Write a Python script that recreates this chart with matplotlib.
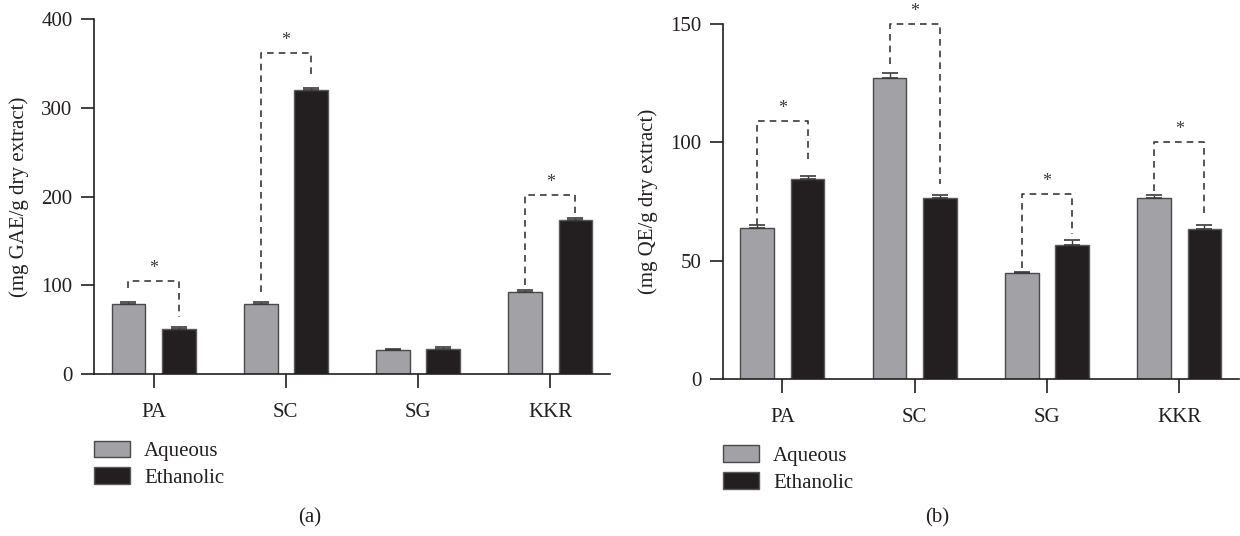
import numpy as np
import matplotlib
matplotlib.use("Agg")
import matplotlib.pyplot as plt
from matplotlib.patches import Patch

plt.rcParams['font.family'] = ['Liberation Serif', 'DejaVu Serif']

groups = ["PA", "SC", "SG", "KKR"]
series = ["Aqueous", "Ethanolic"]

# (a) total phenolic content, mg GAE/g dry extract
gae_aqueous = [79, 79, 27.7, 93]
gae_ethanolic = [50.8, 320, 28.8, 174]
gae_aqueous_err = [2, 2, 1, 1.5]
gae_ethanolic_err = [2.5, 1.8, 1.2, 1.5]
# significance brackets: (group, left foot, top, right foot)
gae_brackets = [(0, 97, 105, 64), (1, 92, 362, 337), (3, 100, 202, 181)]

# (b) total flavonoid content, mg QE/g dry extract
qe_aqueous = [63.8, 127.3, 44.6, 76.4]
qe_ethanolic = [84.4, 76.6, 56.5, 63.6]
qe_aqueous_err = [1.2, 2.1, 0.7, 1.4]
qe_ethanolic_err = [1.5, 1.3, 2.2, 1.6]
qe_brackets = [(0, 65, 109, 93), (1, 133, 150, 82.5), (2, 47, 78.2, 61.3), (3, 79.3, 100, 70)]

GREY = "#a1a1a6"
BLACK = "#231f20"
EDGE = "#4a4a4a"
TXT = "#231f20"
FS = 15


def draw_panel(ax, aq, eth, aq_err, eth_err, brackets, ymax, yticks, ylabel):
    x = np.arange(len(groups))
    off = 0.19
    w = 0.255
    ax.bar(x - off, aq, w, color=GREY, edgecolor=EDGE, linewidth=1.0, zorder=2)
    ax.bar(x + off, eth, w, color=BLACK, edgecolor="#5a5a5a", linewidth=1.0, zorder=2)
    for xs, vals, errs in [(x - off, aq, aq_err), (x + off, eth, eth_err)]:
        ax.errorbar(xs, vals, yerr=[np.zeros(len(vals)), errs], fmt="none",
                    ecolor="#3a3a3a", elinewidth=1.0, capsize=5.8, capthick=1.2, zorder=3)
    for g, yl, yt, yr in brackets:
        ax.plot([g - off, g - off, g + off, g + off], [yl, yt, yt, yr],
                color="#3a3a3a", lw=1.2, ls=(0, (4, 3)), clip_on=False, zorder=4)
        ax.text(g, yt + ymax * 0.012, "*", ha="center", va="bottom",
                fontsize=13, color="#3a3a3a", clip_on=False)

    ax.set_xlim(-0.45, 3.45)
    ax.set_ylim(0, ymax)
    ax.set_xticks(x)
    ax.set_xticklabels(groups)
    ax.set_yticks(yticks)
    for s in ["top", "right"]:
        ax.spines[s].set_visible(False)
    for s in ["left", "bottom"]:
        ax.spines[s].set_linewidth(1.2)
        ax.spines[s].set_color(TXT)
    ax.tick_params(axis="x", direction="out", length=10, width=1.2, pad=11,
                   labelsize=FS, colors=TXT)
    ax.tick_params(axis="y", direction="out", length=9.5, width=1.2, pad=6,
                   labelsize=FS, colors=TXT)
    ax.set_ylabel(ylabel, fontsize=FS, color=TXT, labelpad=9)

    handles = [Patch(facecolor=GREY, edgecolor=EDGE, linewidth=1.0),
               Patch(facecolor=BLACK, edgecolor="#5a5a5a", linewidth=1.0)]
    leg = ax.legend(handles, series, loc="upper left", bbox_to_anchor=(0.0, -0.187),
                    frameon=False, fontsize=FS, handlelength=1.75, handleheight=0.85,
                    handletextpad=0.65, labelspacing=0.3, borderpad=0, borderaxespad=0)
    for t in leg.get_texts():
        t.set_color(TXT)


fig = plt.figure(figsize=(12.4, 5.36), dpi=100)
ax1 = fig.add_axes([0.0758, 0.302, 0.416, 0.6625])
ax2 = fig.add_axes([0.583, 0.293, 0.416, 0.662])

draw_panel(ax1, gae_aqueous, gae_ethanolic, gae_aqueous_err, gae_ethanolic_err,
           gae_brackets, 400, [0, 100, 200, 300, 400], "(mg GAE/g dry extract)")
draw_panel(ax2, qe_aqueous, qe_ethanolic, qe_aqueous_err, qe_ethanolic_err,
           qe_brackets, 150, [0, 50, 100, 150], "(mg QE/g dry extract)")

fig.text(0.25, 0.034, "(a)", ha="center", va="center", fontsize=FS, color=TXT)
fig.text(0.756, 0.034, "(b)", ha="center", va="center", fontsize=FS, color=TXT)

fig.savefig("out.png", dpi=100, facecolor="white")
